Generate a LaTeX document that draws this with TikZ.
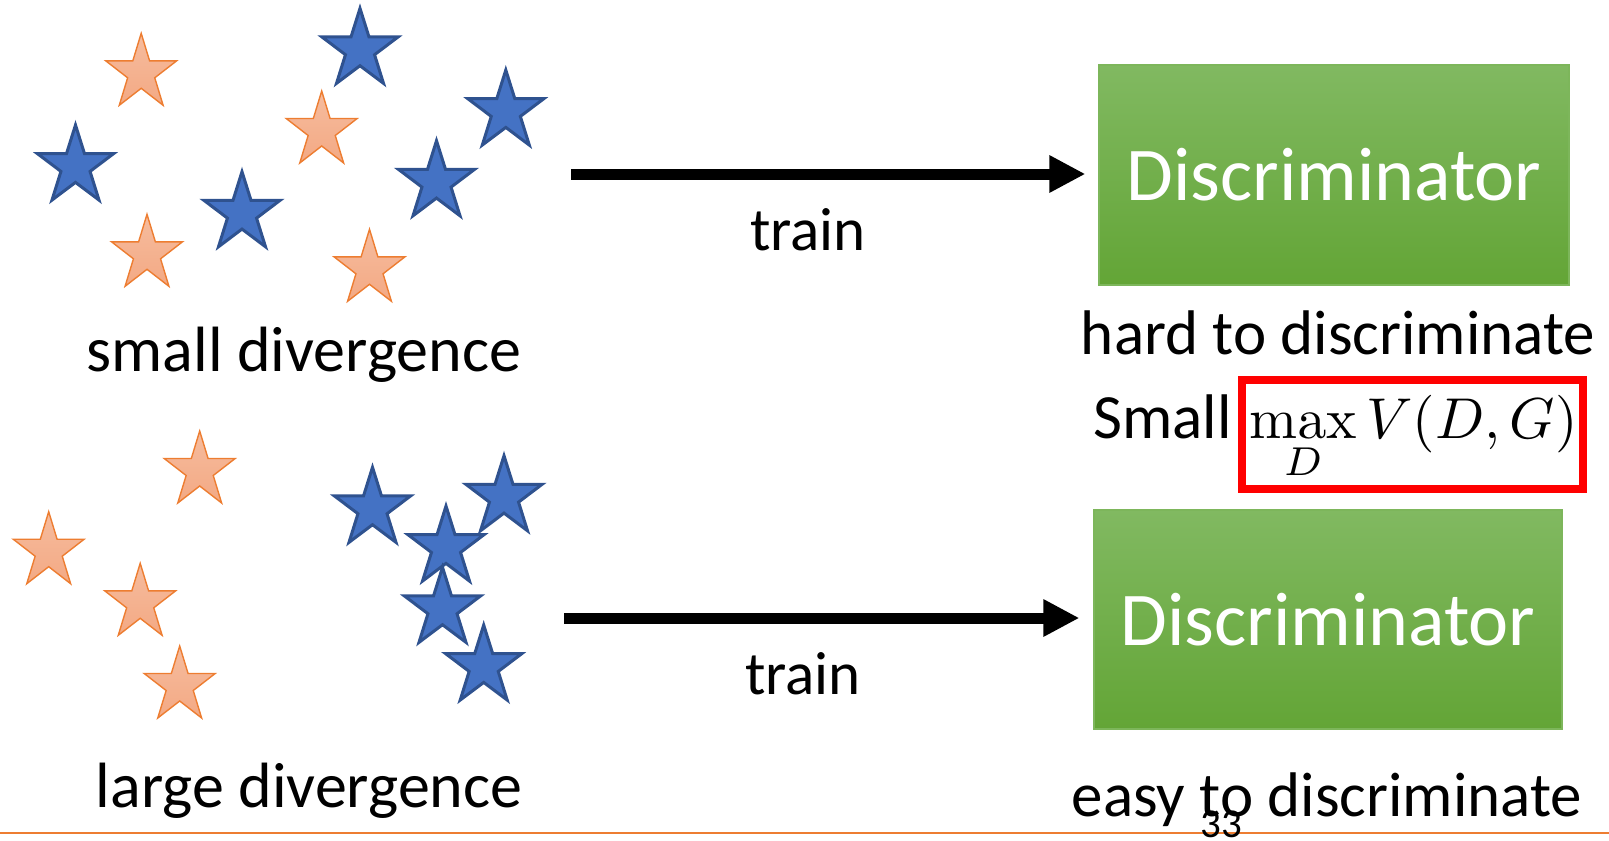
\documentclass[tikz,border=0pt]{standalone}
\usepackage{graphicx}
\usepackage[no-math]{fontspec}
\setmainfont{Carlito}
\usetikzlibrary{arrows.meta}
\definecolor{sblue}{HTML}{4472C4}
\definecolor{sbluedk}{HTML}{2F528F}
\definecolor{sorange}{HTML}{ED7D31}
\definecolor{sorangeT}{HTML}{F6BC9E}
\definecolor{sorangeB}{HTML}{F3A984}
\definecolor{gtop}{HTML}{81B961}
\definecolor{gbot}{HTML}{63A536}
\definecolor{gedge}{HTML}{7DB65B}
\definecolor{redbox}{HTML}{FF0000}
\tikzset{
  bstar/.pic={\draw[line width=1.5pt, draw=sbluedk, fill=sblue, line join=miter]
    (-90:40 and 41.5) -- (-54:15.3 and 15.9) -- (-18:40 and 41.5) -- (18:15.3 and 15.9)
    -- (54:40 and 41.5) -- (90:15.3 and 15.9) -- (126:40 and 41.5) -- (162:15.3 and 15.9)
    -- (198:40 and 41.5) -- (234:15.3 and 15.9) -- cycle;},
  ostar/.pic={\draw[line width=0.7pt, draw=sorange, top color=sorangeT, bottom color=sorangeB, line join=miter]
    (-90:37.3 and 39.8) -- (-54:14.25 and 15.2) -- (-18:37.3 and 39.8) -- (18:14.25 and 15.2)
    -- (54:37.3 and 39.8) -- (90:14.25 and 15.2) -- (126:37.3 and 39.8) -- (162:14.25 and 15.2)
    -- (198:37.3 and 39.8) -- (234:14.25 and 15.2) -- cycle;},
  disc/.style={rectangle, draw=gedge, line width=0.6pt, top color=gtop, bottom color=gbot,
    text=white, font=\fontsize{38}{44}\selectfont, inner sep=0pt},
  lbl/.style={anchor=base, inner sep=0pt, font=\fontsize{31.5}{36}\selectfont},
  divlbl/.style={lbl, font=\fontsize{32}{36}\selectfont},
  trainlbl/.style={lbl, font=\fontsize{30.5}{36}\selectfont},
  arr/.style={line width=5.5pt, -{Triangle[length=18pt,width=17.5pt]}},
}
\begin{document}
\begin{tikzpicture}[x=0.5pt,y=-0.5pt]
\useasboundingbox (0,0) rectangle (1609,840);
% top group stars
\pic at (141.2,73.1) {ostar};
\pic at (360,49.8) {bstar};
\pic at (321.7,130.8) {ostar};
\pic at (505.8,111.5) {bstar};
\pic at (75.5,166.5) {bstar};
\pic at (242,213.2) {bstar};
\pic at (436.5,182.2) {bstar};
\pic at (147,254.1) {ostar};
\pic at (369.5,269.1) {ostar};
% bottom group stars
\pic at (199.7,470.8) {ostar};
\pic at (48.7,551.5) {ostar};
\pic at (140.2,603.1) {ostar};
\pic at (179.7,685.8) {ostar};
\pic at (372.5,508.8) {bstar};
\pic at (504,497.2) {bstar};
\pic at (446,547.5) {bstar};
\pic at (442.5,608.8) {bstar};
\pic at (483.7,666.5) {bstar};
% discriminators
\node[disc, minimum width=235pt, minimum height=110pt] (d1) at (1334,175) {Discriminator};
\node[disc, minimum width=234pt, minimum height=109.5pt] (d2) at (1328,619.5) {Discriminator};
% arrows
\coordinate (s1) at (571,174);
\coordinate (s2) at (564,618);
\draw[arr, shorten >=6.5pt] (s1) -- (s1 -| d1.west);
\draw[arr, shorten >=7pt] (s2) -- (s2 -| d2.west);
% labels
\node[trainlbl] (tr1) at (808,250) {train};
\node[trainlbl] (tr2) at (803,694) {train};
\node[divlbl] (sd) at (304,371) {small divergence};
\node[divlbl] (ld) at (309,807) {large divergence};
\node[lbl] (hd) at (1338,354) {hard to discriminate};
\node[lbl, anchor=base west] (sm) at (1093,438) {Small};
\node[anchor=base west, inner sep=0pt, font=\fontsize{10}{12}\selectfont] (mx) at (1249,438) {\scalebox{2.88}{$\displaystyle\max_{D} V(D,G)$}};
\node[draw=redbox, line width=4pt, minimum width=170.5pt, minimum height=54.5pt, inner sep=0pt] (rb) at (1412.5,434.5) {};
\node[lbl] (ez) at (1327,816) {easy to discriminate};
% footer
\coordinate (fl) at (0,833);
\coordinate (fr) at (1609,833);
\draw[sorange, line width=1pt] (fl) -- (fr);
\node[lbl, font=\fontsize{20.5}{24}\selectfont] (pg) at (1221,837) {33};
\end{tikzpicture}
\end{document}
